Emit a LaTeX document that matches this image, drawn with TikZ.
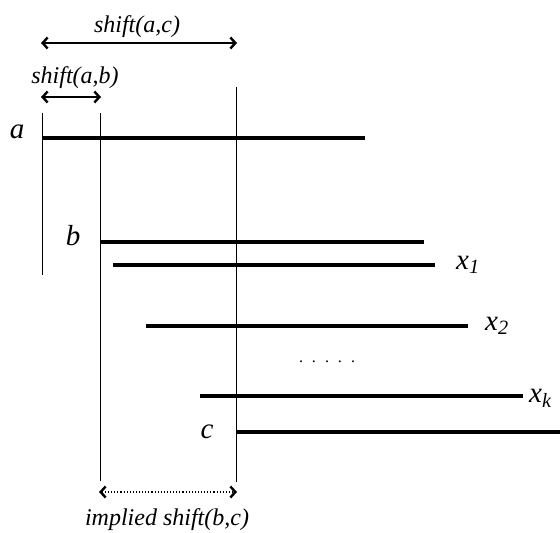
\documentclass[tikz,border=0pt]{standalone}
\usepackage{fontspec}
\setmainfont{Liberation Serif}
\usetikzlibrary{arrows.meta}

\tikzset{
  barb/.tip={Straight Barb[length=5pt, width=11pt, line width=2.4pt]},
  heavy/.style={line width=4.8pt},
  medium/.style={line width=3.2pt},
  guide/.style={line width=0.9pt},
  span/.style={line width=1.1pt, barb-barb, shorten <=-1pt, shorten >=-1pt},
  letter/.style={font={\itshape\fontsize{29}{29}\selectfont}, inner sep=0pt},
  caption/.style={font={\itshape\fontsize{24}{24}\selectfont}, inner sep=0pt, anchor=base}
}

\begin{document}
\begin{tikzpicture}[x=1pt, y=-1pt]

\useasboundingbox (0,0) rectangle (560,533);

% start and end of every interval
\coordinate (a-top) at (42,113);
\coordinate (a-bot) at (42,275);
\coordinate (b-top) at (100,113);
\coordinate (b-bot) at (100,481);
\coordinate (c-top) at (236,87);
\coordinate (c-bot) at (236,482);

\coordinate (a1) at (42,138);   \coordinate (a2) at (365,138);
\coordinate (b1) at (100,242);  \coordinate (b2) at (424,242);
\coordinate (x1s) at (113,265); \coordinate (x1e) at (435,265);
\coordinate (x2s) at (146,326); \coordinate (x2e) at (468,326);
\coordinate (xks) at (200,396); \coordinate (xke) at (523,396);
\coordinate (c1) at (236,432);  \coordinate (c2) at (560,432);

\coordinate (ac-l) at (42,43);  \coordinate (ac-r) at (236,43);
\coordinate (ab-l) at (42,97);  \coordinate (ab-r) at (100,97);
\coordinate (bc-l) at (100,492); \coordinate (bc-r) at (236,492);

\draw [guide] (a-top) -- (a-bot);
\draw [guide] (b-top) -- (b-bot);
\draw [guide] (c-top) -- (c-bot);

\draw [heavy] (a1) -- (a2);
\draw [heavy] (b1) -- (b2);
\draw [medium] (x1s) -- (x1e);
\draw [medium] (x2s) -- (x2e);
\draw [medium] (xks) -- (xke);
\draw [heavy] (c1) -- (c2);

\node [letter, anchor=base] (lbl-a) at (17,138) {a};
\node [letter, anchor=base] (lbl-b) at (73,245) {b};
\node [letter, anchor=base] (lbl-c) at (207,438) {c};
\node [letter, anchor=base west] (lbl-x1) at (456,269) {x\textsubscript{1}};
\node [letter, anchor=base west] (lbl-x2) at (485,330) {x\textsubscript{2}};
\node [letter, anchor=base west] (lbl-xk) at (529,402) {x\textsubscript{k}};

\node [anchor=base, inner sep=0pt, font={\fontsize{16}{16}\selectfont}] (dots)
 at (327,362) {.\hspace{9pt}.\hspace{9pt}.\hspace{9pt}.\hspace{9pt}.};

\draw [span] (ac-l) -- (ac-r);
\draw [span] (ab-l) -- (ab-r);
\draw [span, dotted] (bc-l) -- (bc-r);

\node [caption] (lbl-ac) at (137,32) {shift(a,c)};
\node [caption] (lbl-ab) at (75,83) {shift(a,b)};
\node [caption] (lbl-bc) at (167,525) {implied shift(b,c)};

\end{tikzpicture}
\end{document}
